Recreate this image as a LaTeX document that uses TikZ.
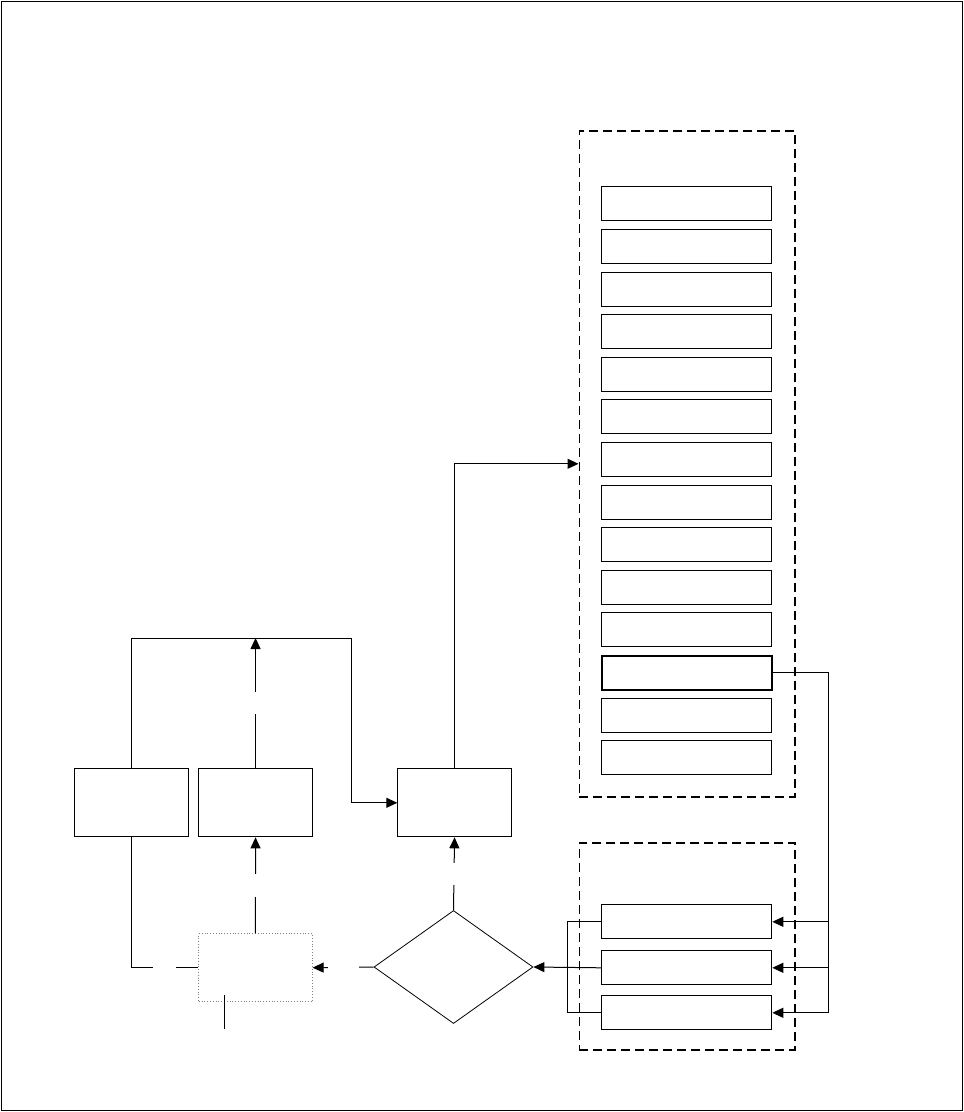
\documentclass[tikz,border=0pt]{standalone}
\usetikzlibrary{arrows.meta,shapes.geometric}
\begin{document}
\begin{tikzpicture}[x=1pt,y=-1pt,line width=1pt,
  blk/.style={draw, line width=1pt, inner sep=0pt, anchor=north west, minimum width=113.5pt, minimum height=68pt},
  dotbox/.style={blk, draw=gray, line width=0.8pt, dotted},
  item/.style={draw, line width=1pt, inner sep=0pt, anchor=north west, minimum width=170pt, minimum height=34pt},
  thickitem/.style={item, line width=2pt},
  cont/.style={draw, line width=1.6pt, dash pattern=on 9pt off 5pt, inner sep=0pt, anchor=north west, minimum width=215.5pt},
  dec/.style={draw, diamond, line width=0.8pt, inner sep=0pt, minimum width=159pt, minimum height=113pt},
  arr/.style={-{Triangle[length=11pt,width=10pt]}},
  gap/.style={fill=white, inner sep=0pt, minimum width=4pt}]
\useasboundingbox (0,0) rectangle (964,1112);
\draw[line width=1pt] (1,1) rectangle (962,1110);
% containers
\node[cont, minimum height=666pt] (topc) at (578.5,130) {};
\node[cont, minimum height=207pt] (botc) at (578.5,842) {};
% list items
\foreach \i in {0,...,13} {
  \pgfmathsetmacro{\yy}{186.3+42.6*\i}
  \ifnum\i=11
    \node[thickitem] (L\i) at (601.3,\yy) {};
  \else
    \node[item] (L\i) at (601.3,\yy) {};
  \fi
}
% bottom items
\node[item] (b1) at (601.3,904.3) {};
\node[item] (b2) at (601.3,950.3) {};
\node[item] (b3) at (601.3,995.3) {};
% blocks
\node[blk] (A) at (74.3,768.3) {};
\node[blk] (B) at (198.3,768.3) {};
\node[blk] (C) at (397.3,768.3) {};
\node[dotbox] (D) at (198.3,933.3) {};
\node[dec] (dia) at (453.5,967) {};
% coordinates
\coordinate (j1) at (351.7,638);
\coordinate (rx) at (828.3,0);
\coordinate (lx) at (567.3,0);
\coordinate (t1) at (224.3,995);
\coordinate (t2) at (224.3,1029.3);
% connectors
\draw[arr] (C.north) |- (topc.west);
\draw[arr] (A.north) |- (j1) |- (C.west);
\draw[arr] (B.north) -- node[gap, minimum height=22pt] (g1) {} (B.north |- j1);
\draw[arr] (D.north) -- node[gap, minimum height=23pt] (g2) {} (B.south);
\draw[arr] (dia.north) -- node[gap, minimum height=22pt] (g3) {} (C.south);
\draw[arr] (dia.west) -- node[gap, minimum width=31pt, minimum height=4pt] (g4) {} (D.east);
\draw (A.south) |- node[pos=0.75, gap, minimum width=23pt, minimum height=4pt] (g5) {} (D.west);
\draw (L11.east) -| (rx |- b3.east);
\draw[arr] (rx |- b1.east) -- (b1.east);
\draw[arr] (rx |- b2.east) -- (b2.east);
\draw[arr] (rx |- b3.east) -- (b3.east);
\draw (b1.west) -- (lx |- b1.west) -- (lx |- b3.west) -- (b3.west);
\draw[arr] (b2.west) -- (dia.east);
\draw (t1) -- (t2);
\end{tikzpicture}
\end{document}
